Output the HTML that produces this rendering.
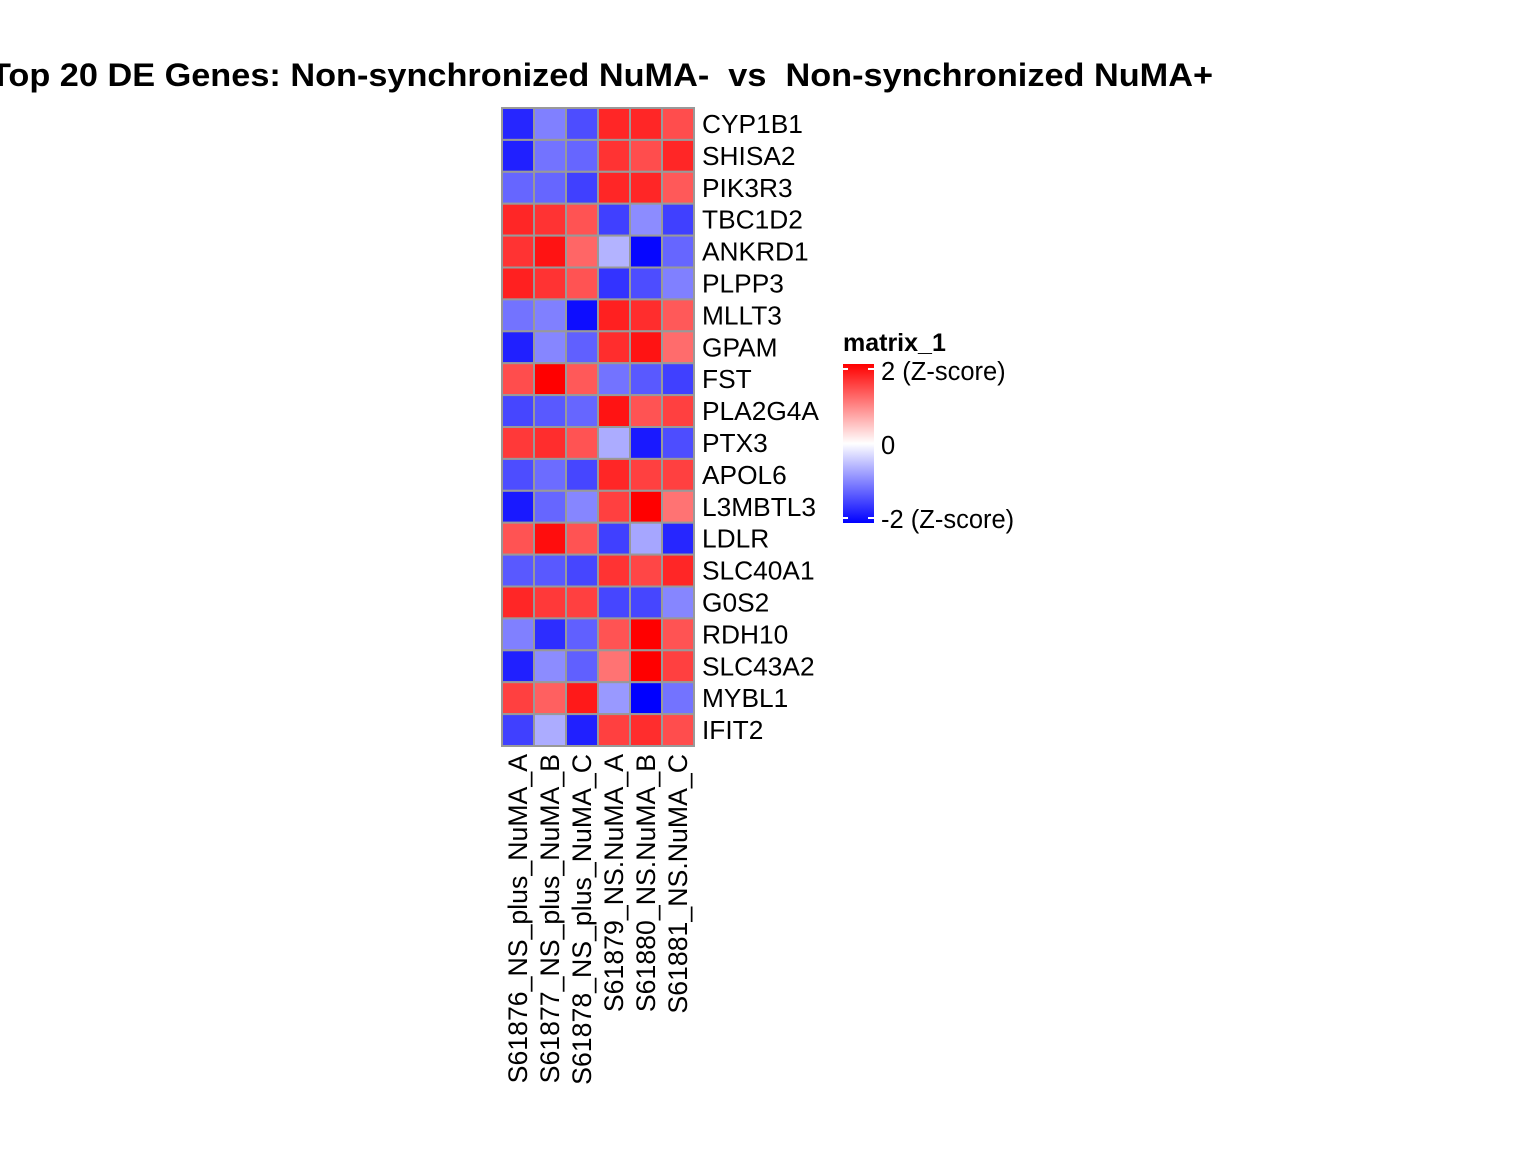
<!DOCTYPE html>
<html><head><meta charset="utf-8"><style>
body{margin:0;background:#fff;}
svg{display:block;font-family:"Liberation Sans",Arial,sans-serif;}
</style></head><body>
<svg id="chart" width="1536" height="1152" viewBox="0 0 1536 1152">
<defs><linearGradient id="lg" x1="0" y1="1" x2="0" y2="0">
<stop offset="0" stop-color="#0000ff"/><stop offset="0.5" stop-color="#ffffff"/><stop offset="1" stop-color="#ff0000"/></linearGradient></defs>
<text x="-10" y="86" font-size="32" font-weight="bold" style="white-space:pre" xml:space="preserve" textLength="1223" lengthAdjust="spacingAndGlyphs">Top 20 DE Genes: Non-synchronized NuMA-  vs  Non-synchronized NuMA+</text>
<g id="cells"></g>
<g id="rowlabels"></g>
<g id="collabels"></g>
<g>
<text x="843" y="351" font-size="25" font-weight="bold">matrix_1</text>
<rect x="843" y="364" width="31" height="159" fill="url(#lg)"/>
<line x1="843" y1="369" x2="848" y2="369" stroke="#fff" stroke-width="2"/><line x1="868" y1="369" x2="874" y2="369" stroke="#fff" stroke-width="2"/>
<line x1="843" y1="518" x2="848" y2="518" stroke="#fff" stroke-width="2"/><line x1="868" y1="518" x2="874" y2="518" stroke="#fff" stroke-width="2"/>
<text x="881" y="380" font-size="25.5">2 (Z-score)</text>
<text x="881" y="454" font-size="25.5">0</text>
<text x="881" y="528" font-size="25.5">-2 (Z-score)</text>
</g>
</svg>
<script>
const genes=["CYP1B1","SHISA2","PIK3R3","TBC1D2","ANKRD1","PLPP3","MLLT3","GPAM","FST","PLA2G4A","PTX3","APOL6","L3MBTL3","LDLR","SLC40A1","G0S2","RDH10","SLC43A2","MYBL1","IFIT2"];
const samples=["S61876_NS_plus_NuMA_A","S61877_NS_plus_NuMA_B","S61878_NS_plus_NuMA_C","S61879_NS.NuMA_A","S61880_NS.NuMA_B","S61881_NS.NuMA_C"];
const zscores=[
[-1.7,-1.0,-1.4,1.7,1.7,1.4],
[-1.75,-1.1,-1.2,1.6,1.4,1.7],
[-1.2,-1.2,-1.5,1.7,1.7,1.3],
[1.7,1.6,1.35,-1.5,-0.9,-1.5],
[1.6,1.85,1.2,-0.6,-1.95,-1.2],
[1.75,1.6,1.35,-1.6,-1.4,-1.0],
[-1.1,-1.0,-1.9,1.75,1.65,1.3],
[-1.75,-0.95,-1.25,1.65,1.85,1.15],
[1.4,2.0,1.3,-1.1,-1.3,-1.5],
[-1.45,-1.3,-1.2,1.85,1.35,1.5],
[1.55,1.65,1.35,-0.65,-1.8,-1.4],
[-1.4,-1.15,-1.45,1.7,1.5,1.5],
[-1.8,-1.2,-0.95,1.5,2.0,1.1],
[1.35,1.9,1.35,-1.5,-0.7,-1.7],
[-1.3,-1.3,-1.45,1.6,1.45,1.7],
[1.7,1.55,1.5,-1.45,-1.45,-0.95],
[-1.0,-1.65,-1.25,1.35,2.0,1.35],
[-1.75,-0.9,-1.25,1.1,2.0,1.5],
[1.5,1.25,1.8,-0.8,-2.0,-1.1],
[-1.5,-0.65,-1.75,1.5,1.65,1.4]];
const X0=502,X1=694,Y0=108,Y1=746;
const cw=(X1-X0)/samples.length, ch=(Y1-Y0)/genes.length;
const xPos=j=>X0+j*cw, yPos=i=>Y0+i*ch;
function color(v){v=Math.max(-2,Math.min(2,v));const t=Math.round(255*(1-Math.abs(v)/2));
return v>=0?`rgb(255,${t},${t})`:`rgb(${t},${t},255)`;}
const NS="http://www.w3.org/2000/svg";
const cells=document.getElementById('cells'),rl=document.getElementById('rowlabels'),cl=document.getElementById('collabels');
zscores.forEach((row,i)=>row.forEach((v,j)=>{
const r=document.createElementNS(NS,'rect');
r.setAttribute('x',xPos(j));r.setAttribute('y',yPos(i));r.setAttribute('width',cw);r.setAttribute('height',ch);
r.setAttribute('fill',color(v));r.setAttribute('stroke','#999');r.setAttribute('stroke-width','2');


cells.appendChild(r);}));
genes.forEach((g,i)=>{const t=document.createElementNS(NS,'text');
t.setAttribute('x',702);t.setAttribute('y',yPos(i)+ch/2+9);t.setAttribute('font-size','26.3');t.textContent=g;


rl.appendChild(t);});
samples.forEach((s,j)=>{const t=document.createElementNS(NS,'text');
const x=xPos(j)+cw/2+9,y=754;
t.setAttribute('x',x);t.setAttribute('y',y);t.setAttribute('transform',`rotate(-90 ${x} ${y})`);
t.setAttribute('text-anchor','end');t.setAttribute('font-size','26.7');t.textContent=s;


cl.appendChild(t);});
</script>
</body></html>
